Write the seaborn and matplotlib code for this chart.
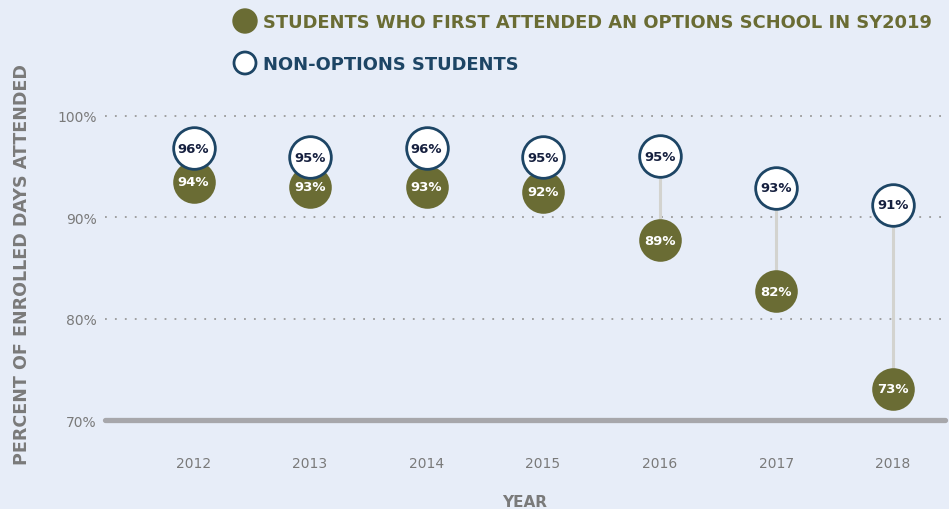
import numpy as np
import pandas as pd
import matplotlib as mpl
mpl.use('Agg')
import matplotlib.pyplot as plt
import seaborn as sns

years = [2012, 2013, 2014, 2015, 2016, 2017, 2018]
options_vals = [93.5, 93.0, 93.0, 92.5, 87.7, 82.7, 73.1]
options_labels = ['94%', '93%', '93%', '92%', '89%', '82%', '73%']
nonopt_vals = [96.8, 95.9, 96.8, 95.9, 96.0, 92.9, 91.2]
nonopt_labels = ['96%', '95%', '96%', '95%', '95%', '93%', '91%']
y_ticks = [70, 80, 90, 100]
y_tick_labels = ['70%', '80%', '90%', '100%']

bg = '#e7edf8'
olive = '#6a6c34'
navy = '#1d4565'
navy_text = '#16203f'
gray_text = '#7a7a7a'

sns.set_style('white')
plt.rcParams['font.family'] = ['DejaVu Sans']

df = pd.DataFrame({'year': years, 'options': options_vals,
                   'nonopt': nonopt_vals})

fig = plt.figure(figsize=(9.49, 5.10), dpi=100, facecolor=bg)
ax = fig.add_axes([105 / 949, 1 - 421 / 510, 840 / 949, 321 / 510])
ax.set_facecolor(bg)

# connectors
ax.vlines(df['year'], df['options'], df['nonopt'], color='#d3d3cf',
          lw=2.2, zorder=1)

sns.scatterplot(data=df, x='year', y='options', ax=ax, s=940,
                color=olive, edgecolor=olive, linewidth=0, zorder=3,
                clip_on=False)
sns.scatterplot(data=df, x='year', y='nonopt', ax=ax, s=900,
                color='white', edgecolor=navy, linewidth=2.0, zorder=4,
                clip_on=False)

for x, v, lab in zip(years, options_vals, options_labels):
    ax.text(x, v, lab, ha='center', va='center', color='white',
            fontsize=9.5, fontweight='bold', zorder=5)
for x, v, lab in zip(years, nonopt_vals, nonopt_labels):
    ax.text(x, v, lab, ha='center', va='center', color=navy_text,
            fontsize=9.5, fontweight='bold', zorder=5)

ax.set_xlim(2011.24, 2018.45)
ax.set_ylim(70, 101.65)
for t in [80, 90, 100]:
    ax.axhline(t, color='#9a9a9a', lw=1.3, ls=(0, (1, 4.5)), zorder=0)
ax.axhline(70, color='#a7a7ab', lw=3.8, zorder=2, clip_on=False)

ax.set_yticks(y_ticks)
ax.set_yticklabels(y_tick_labels)
ax.set_xticks(years)
ax.set_xticklabels([str(y) for y in years])
ax.tick_params(axis='both', length=0, labelsize=10, labelcolor=gray_text)
ax.tick_params(axis='x', pad=26)
ax.tick_params(axis='y', pad=6)
for s in ax.spines.values():
    s.set_visible(False)

ax.set_xlabel('')
ax.set_ylabel('')
fig.text(525 / 949, 1 - 503 / 510, 'YEAR', ha='center', va='center',
         fontsize=11, fontweight='bold', color=gray_text)
fig.text(22 / 949, 1 - 265 / 510, 'PERCENT OF ENROLLED DAYS ATTENDED',
         ha='center', va='center', rotation=90, fontsize=12.6,
         fontweight='bold', color=gray_text)

# legend
fig.patches.append(mpl.patches.Ellipse((245 / 949, 1 - 22 / 510),
                   24 / 949, 24 / 510, transform=fig.transFigure,
                   facecolor=olive, edgecolor=olive))
fig.patches.append(mpl.patches.Ellipse((245 / 949, 1 - 64 / 510),
                   22 / 949, 22 / 510, transform=fig.transFigure,
                   facecolor='white', edgecolor=navy, lw=2))
fig.text(263 / 949, 1 - 23 / 510,
         'STUDENTS WHO FIRST ATTENDED AN OPTIONS SCHOOL IN SY2019',
         ha='left', va='center', fontsize=12.9, fontweight='bold',
         color=olive)
fig.text(263 / 949, 1 - 65 / 510, 'NON-OPTIONS STUDENTS', ha='left',
         va='center', fontsize=12.9, fontweight='bold', color=navy)

fig.savefig('out.png', dpi=100, facecolor=bg)
